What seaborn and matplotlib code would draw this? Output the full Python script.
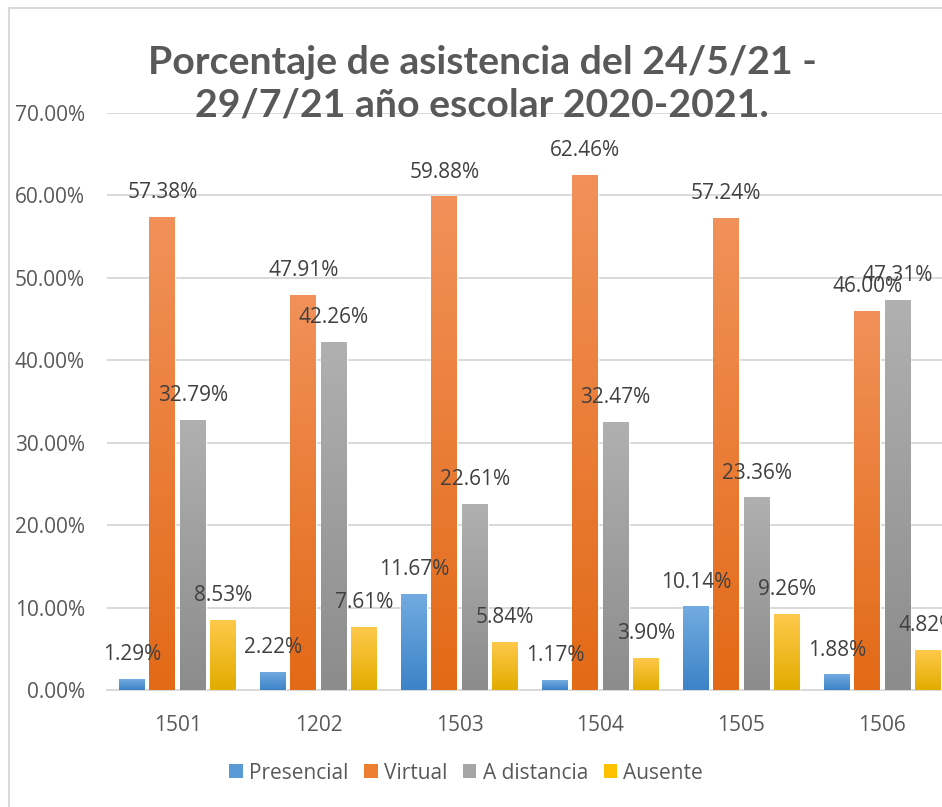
import numpy as np
import pandas as pd
import matplotlib.pyplot as plt
import seaborn as sns
from matplotlib.patches import Patch, Rectangle
from matplotlib.colors import LinearSegmentedColormap

grupos = ['1501', '1202', '1503', '1504', '1505', '1506']
series = ['Presencial', 'Virtual', 'A distancia', 'Ausente']
presencial = [1.29, 2.22, 11.67, 1.17, 10.14, 1.88]
virtual = [57.38, 47.91, 59.88, 62.46, 57.24, 46.00]
a_distancia = [32.79, 42.26, 22.61, 32.47, 23.36, 47.31]
ausente = [8.53, 7.61, 5.84, 3.90, 9.26, 4.82]

colores = ['#5B9BD5', '#ED7D31', '#A5A5A5', '#FFC000']
# top / bottom of the gradient for each series
degradados = [('#72ABE0', '#3D83C8'), ('#F19159', '#E36A17'),
              ('#B0B0B0', '#8C8C8C'), ('#FFC94C', '#E2AC00')]

df = pd.DataFrame({
    'grupo': grupos * 4,
    'serie': np.repeat(series, len(grupos)),
    'valor': presencial + virtual + a_distancia + ausente,
})

sns.set_style('white')
plt.rcParams['font.family'] = ['Open Sans', 'DejaVu Sans']

fig = plt.figure(figsize=(9.42, 8.07), dpi=100)
ax = fig.add_axes([0.1136, 0.145, 0.898, 0.715])

sns.barplot(data=df, x='grupo', y='valor', hue='serie', order=grupos,
            hue_order=series, palette=colores, width=0.86, gap=0.15,
            legend=False, ax=ax, zorder=3)

# gradient fill on each bar
for cont, (c_top, c_bot) in zip(ax.containers, degradados):
    cmap = LinearSegmentedColormap.from_list('g', [c_bot, c_top])
    for bar in cont:
        x0, y0 = bar.get_x(), bar.get_y()
        w, h = bar.get_width(), bar.get_height()
        img = ax.imshow(np.linspace(0, 1, 100).reshape(-1, 1), cmap=cmap,
                        origin='lower', aspect='auto',
                        extent=(x0, x0 + w, y0, y0 + h), zorder=3.5)
        img.set_clip_path(bar)
    ax.bar_label(cont, fmt='%.2f%%', padding=10, fontsize=15,
                 color='#404040', zorder=5)

ax.set_xlim(-0.5, 5.5)
ax.set_ylim(0, 70)
ax.set_yticks(np.arange(0, 71, 10))
ax.set_yticklabels([f'{v:.2f}%' for v in np.arange(0, 71, 10)])
ax.tick_params(axis='both', length=0, labelsize=15, labelcolor='#595959')
ax.tick_params(axis='y', pad=16)
ax.tick_params(axis='x', pad=18)
ax.set_xlabel('')
ax.set_ylabel('')
ax.yaxis.grid(True, color='#D9D9D9', lw=1.4, zorder=0)
ax.set_axisbelow(True)
for s in ['top', 'right', 'left']:
    ax.spines[s].set_visible(False)
ax.spines['bottom'].set_color('#D9D9D9')
ax.spines['bottom'].set_linewidth(1.4)

fig.text(0.512, 0.896, 'Porcentaje de asistencia del 24/5/21 -\n29/7/21 año escolar 2020-2021.',
         ha='center', va='center', fontsize=28.3, fontweight='bold',
         color='#595959', family=['Lato', 'DejaVu Sans'], linespacing=1.25)

handles = [Patch(facecolor=c, edgecolor='none') for c in colores]
fig.legend(handles, series, loc='center', bbox_to_anchor=(0.495, 0.042),
           ncol=4, frameon=False, fontsize=15, labelcolor='#595959',
           handlelength=0.65, handleheight=0.65, handletextpad=0.3,
           columnspacing=0.75)

fig.add_artist(Rectangle((9 / 942, -0.1), 2, 1.0902, transform=fig.transFigure,
                         fill=False, edgecolor='#D9D9D9', lw=1.5))

fig.savefig('out.png', dpi=100)
